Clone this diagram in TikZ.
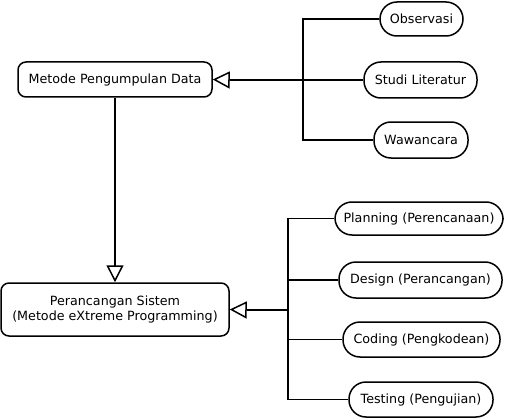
\documentclass[tikz,border=0pt]{standalone}
\usepackage{fontspec}
\setmainfont{DejaVu Sans}
\usetikzlibrary{arrows.meta}
\begin{document}
\begin{tikzpicture}[x=1pt,y=-1pt,
  every node/.style={font=\fontsize{12.7}{15}\selectfont},
  box/.style={draw,line width=1.5pt,rounded corners=8pt,align=center,inner sep=0pt},
  pill/.style={draw,line width=1.5pt,rounded corners=17pt,inner sep=0pt},
  ln/.style={line width=1.6pt},
  thick ln/.style={line width=2.6pt},
  tri/.style={-{Triangle[open,length=17pt,width=17pt,line width=1.5pt]}}
]
\useasboundingbox (0,0) rectangle (509,420);
\node[box,minimum width=194pt,minimum height=35pt] (A) at (115,79.5) {Metode Pengumpulan Data};
\node[box,minimum width=228pt,minimum height=53pt] (B) at (115,309.5) {Perancangan Sistem\\(Metode eXtreme Programming)};
\node[pill,minimum width=83pt,minimum height=34pt] (o) at (421.5,19) {Observasi};
\node[pill,minimum width=113pt,minimum height=36pt] (s) at (420.5,80) {Studi Literatur};
\node[pill,minimum width=94pt,minimum height=36pt] (w) at (421,140) {Wawancara};
\node[pill,minimum width=168pt,minimum height=33pt] (p) at (419,218.5) {Planning (Perencanaan)};
\node[pill,minimum width=163pt,minimum height=36pt] (d) at (420.5,280) {Design (Perancangan)};
\node[pill,minimum width=157pt,minimum height=35pt] (c) at (421.5,339.5) {Coding (Pengkodean)};
\node[pill,minimum width=144pt,minimum height=35pt] (t) at (421,399.5) {Testing (Pengujian)};
\coordinate (j1) at (303,80);
\coordinate (j2) at (288,310);
% upper group
\draw[ln] (o.west) -| (j1) |- (w.west);
\draw[ln] (s.west) -- (j1);
\draw[thick ln] (j1) -- (231,80);
\draw[tri,ln] (231,80) -- (A.east);
% lower group
\draw[ln] (p.west) -| (j2) |- (t.west);
\draw[ln] (d.west) -| (j2);
\draw[ln] (c.west) -| (j2);
\draw[thick ln] (j2) -- (248,310);
\draw[tri,ln] (248,310) -- (B.east);
% vertical
\draw[tri,ln] (A.south) -- (B.north);
\end{tikzpicture}
\end{document}
